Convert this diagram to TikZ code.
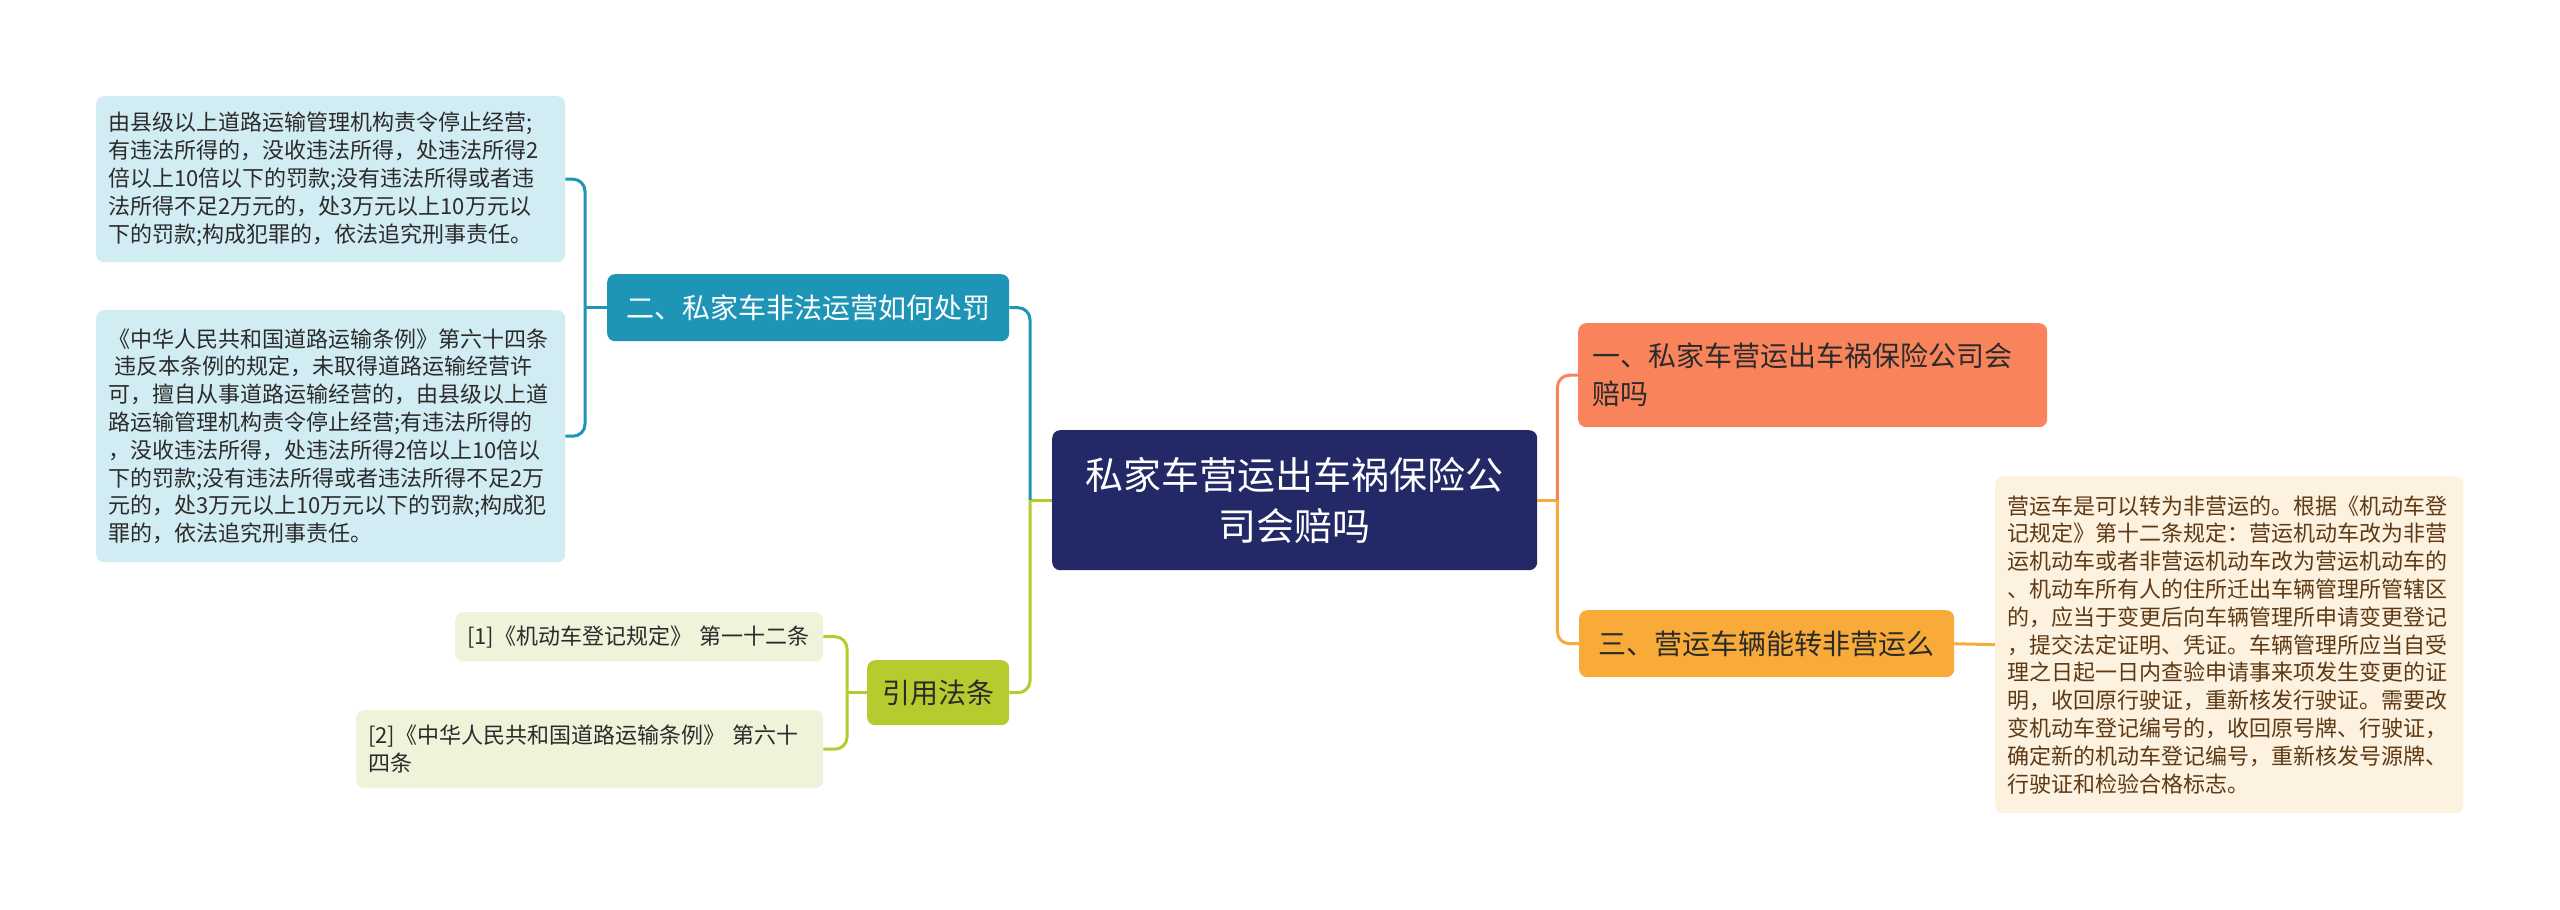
\documentclass[tikz,border=0pt]{standalone}
\usepackage{fontspec}
\setmainfont{Noto Sans CJK SC}
\usetikzlibrary{calc}
\definecolor{tealc}{HTML}{1E95B6}
\definecolor{lblue}{HTML}{D2ECF3}
\definecolor{navy}{HTML}{222966}
\definecolor{greenc}{HTML}{B6CB2E}
\definecolor{lgreen}{HTML}{EFF3D9}
\definecolor{orangec}{HTML}{F9845B}
\definecolor{yellowc}{HTML}{F8AB39}
\definecolor{cream}{HTML}{FDF1E0}
\definecolor{brownt}{HTML}{5E3A14}
\definecolor{darkt}{HTML}{2B2B2B}
\begin{document}
\begin{tikzpicture}[x=1pt,y=-1pt,
  box/.style={rounded corners=8pt, anchor=north west, inner xsep=12pt, inner ysep=0pt},
  small/.style={font=\fontsize{22}{27.8}\selectfont},
  mid/.style={font=\fontsize{28}{38}\selectfont},
  conn/.style={line width=3pt, rounded corners=12pt}]
\fill[white] (0,0) rectangle (2560,910);
\useasboundingbox (0,0) rectangle (2560,910);

% center
\node[box, fill=navy, text=white, minimum width=485pt, minimum height=140pt, align=center,
  font=\fontsize{38}{51}\selectfont] (C) at (1052,430) {私家车营运出车祸保险公\\司会赔吗};

% left branches
\node[box, fill=tealc, text=white, mid, minimum width=402pt, minimum height=67pt, align=center] (T) at (607,274) {二、私家车非法运营如何处罚};
\node[box, fill=greenc, text=darkt, mid, minimum width=142pt, minimum height=65pt, align=center] (G) at (867,660) {引用法条};

\node[box, fill=lblue, text=darkt, small, minimum width=469pt, minimum height=166pt, text width=445pt, align=left] (L1) at (96,96)
{由县级以上道路运输管理机构责令停止经营;\\有违法所得的，没收违法所得，处违法所得2\\倍以上10倍以下的罚款;没有违法所得或者违\\法所得不足2万元的，处3万元以上10万元以\\下的罚款;构成犯罪的，依法追究刑事责任。};
\node[box, fill=lblue, text=darkt, small, minimum width=469pt, minimum height=252pt, text width=445pt, align=left] (L2) at (96,310)
{《中华人民共和国道路运输条例》第六十四条\\\hspace*{6pt}违反本条例的规定，未取得道路运输经营许\\可，擅自从事道路运输经营的，由县级以上道\\路运输管理机构责令停止经营;有违法所得的\\，没收违法所得，处违法所得2倍以上10倍以\\下的罚款;没有违法所得或者违法所得不足2万\\元的，处3万元以上10万元以下的罚款;构成犯\\罪的，依法追究刑事责任。};

\node[box, fill=lgreen, text=darkt, small, minimum width=368pt, minimum height=49pt, text width=344pt, align=left] (R1) at (455,612)
{[1]《机动车登记规定》 第一十二条};
\node[box, fill=lgreen, text=darkt, small, minimum width=467pt, minimum height=78pt, text width=443pt, align=left] (R2) at (356,710)
{[2]《中华人民共和国道路运输条例》 第六十\\四条};

% right branches
\node[box, fill=orangec, text=darkt, mid, minimum width=469pt, minimum height=104pt, text width=441pt, inner xsep=14pt, align=left] (O) at (1578,323)
{一、私家车营运出车祸保险公司会\\赔吗};
\node[box, fill=yellowc, text=darkt, mid, minimum width=375pt, minimum height=67pt, align=center] (Y) at (1579,610)
{三、营运车辆能转非营运么};
\node[box, fill=cream, text=brownt, small, minimum width=468pt, minimum height=337pt, text width=444pt, align=left] (RT) at (1995,476)
{营运车是可以转为非营运的。根据《机动车登\\记规定》第十二条规定：营运机动车改为非营\\运机动车或者非营运机动车改为营运机动车的\\、机动车所有人的住所迁出车辆管理所管辖区\\的，应当于变更后向车辆管理所申请变更登记\\，提交法定证明、凭证。车辆管理所应当自受\\理之日起一日内查验申请事来项发生变更的证\\明，收回原行驶证，重新核发行驶证。需要改\\变机动车登记编号的，收回原号牌、行驶证，\\确定新的机动车登记编号，重新核发号源牌、\\行驶证和检验合格标志。};

% junction coordinates
\coordinate (jl) at ($(C.west)+(-22,0)$);
\coordinate (jr) at ($(C.east)+(20,0)$);
\coordinate (jt) at ($(T.west)+(-22,0)$);
\coordinate (jg) at ($(G.west)+(-20,0)$);

% connectors center-left
\draw[conn, greenc] (C.west) -- (jl);
\draw[conn, tealc] (jl) |- (T.east);
\draw[conn, greenc] (jl) |- (G.east);
% teal bracket
\draw[conn, tealc] (T.west) -- (jt);
\draw[conn, tealc] (jt) |- (L1.east);
\draw[conn, tealc] (jt) |- (L2.east);
% green bracket
\draw[conn, greenc] (G.west) -- (jg);
\draw[conn, greenc] (jg) |- (R1.east);
\draw[conn, greenc] (jg) |- (R2.east);
% right
\draw[conn, yellowc] (C.east) -- (jr);
\draw[conn, orangec] (jr) |- (O.west);
\draw[conn, yellowc] (jr) |- (Y.west);
\draw[conn, yellowc] (Y.east) -- (RT.west);
\end{tikzpicture}
\end{document}
